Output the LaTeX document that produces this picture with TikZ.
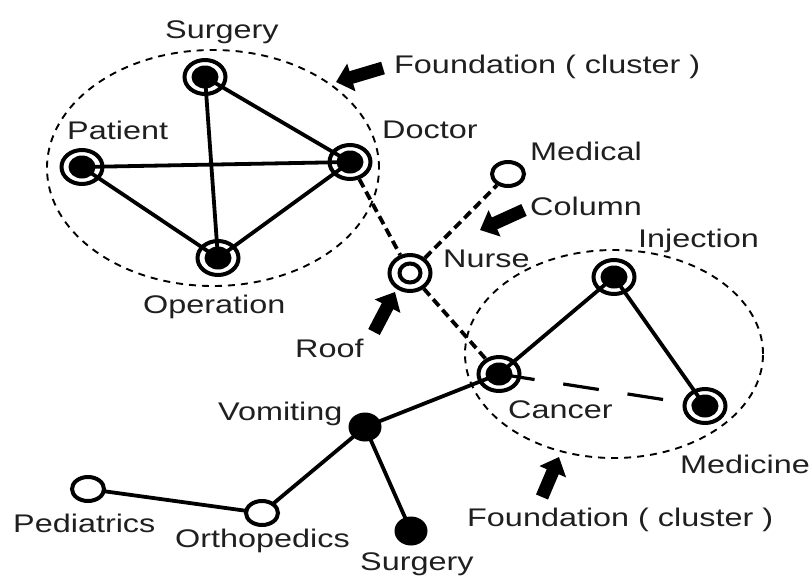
\documentclass[tikz,border=0pt]{standalone}
\usepackage{fontspec}
\setmainfont{Liberation Sans}[FakeStretch=1.27]
\usetikzlibrary{shapes.geometric,arrows.meta,backgrounds}
\begin{document}
\begin{tikzpicture}[x=1pt,y=-1pt,
  lbl/.style={font=\fontsize{25.5pt}{30pt}\selectfont, inner sep=0pt, anchor=base west, text=black!88},
  ring/.style={ellipse, draw, line width=4pt, minimum width=41pt, minimum height=34pt, inner sep=0pt},
  nursering/.style={ellipse, draw, fill=white, line width=4pt, minimum width=41pt, minimum height=36pt, inner sep=0pt},
  opennode/.style={ellipse, draw, fill=white, line width=4pt, minimum width=32pt, minimum height=24pt, inner sep=0pt},
  solidnode/.style={ellipse, fill=black, minimum width=33pt, minimum height=29pt, inner sep=0pt},
  edge/.style={line width=3.8pt},
  dedge/.style={line width=3.8pt, dash pattern=on 9pt off 5pt},
  longdash/.style={line width=3.2pt, dash pattern=on 36pt off 29pt},
  cluster/.style={ellipse, draw, line width=1.9pt, dash pattern=on 7pt off 6pt, inner sep=0pt},
  fat/.style={line width=13pt, -{Triangle[length=16pt,width=28pt]}},
]
\path[use as bounding box] (0,0) rectangle (811,576);

% clusters
\node[cluster, minimum width=332pt, minimum height=236pt] (clusterA) at (213,168) {};
\node[cluster, minimum width=298pt, minimum height=208pt] (clusterB) at (614,354) {};

% nodes
\node[ring] (surgA) at (205,77) {};
\node[ring] (patient) at (82,167) {};
\node[ring] (doctor) at (350,162) {};
\node[ring] (operation) at (218,258) {};
\node[ring] (injection) at (614,277) {};
\node[ring] (cancer) at (499,374) {};
\node[ring] (medicine) at (705,406) {};
\node[nursering] (nurse) at (410,273) {};
\draw[line width=4pt] (nurse.center) ellipse [x radius=10.5pt, y radius=9.5pt];
\node[opennode] (medical) at (508,174) {};
\node[opennode] (pediatrics) at (88,489) {};
\node[opennode] (orthopedics) at (262,513) {};
\node[solidnode] (vomiting) at (365,427) {};
\node[solidnode] (surgB) at (411,531) {};
\foreach \n in {surgA,patient,doctor,operation,injection,cancer,medicine}
  \fill (\n.center) ellipse [x radius=13.5pt, y radius=11.5pt];

% solid edges
\begin{scope}[on background layer]
\draw[edge] (surgA.center) -- (doctor.center);
\draw[edge] (surgA.center) -- (operation.center);
\draw[edge] (patient.center) -- (doctor.center);
\draw[edge] (patient.center) -- (operation.center);
\draw[edge] (doctor.center) -- (operation.center);
\draw[edge] (cancer.center) -- (injection.center);
\draw[edge] (injection.center) -- (medicine.center);
\draw[edge] (cancer.center) -- (vomiting.center);
\draw[edge] (vomiting.center) -- (orthopedics.center);
\draw[edge] (vomiting.center) -- (surgB.center);
\draw[edge] (orthopedics.center) -- (pediatrics.center);
\draw[longdash] (cancer.center) -- (medicine.center);
\end{scope}

% dashed edges
\draw[dedge] (doctor) -- (nurse);
\draw[dedge] (nurse) -- (medical);
\draw[dedge] (nurse) -- (cancer);

% block arrows
\coordinate (a1t) at (383,68);  \coordinate (a1h) at (336,82);
\coordinate (a2t) at (524,210); \coordinate (a2h) at (480,230);
\coordinate (a3t) at (374,332); \coordinate (a3h) at (395,292);
\coordinate (a4t) at (542,497); \coordinate (a4h) at (559,457);
\draw[fat] (a1t) -- (a1h);
\draw[fat] (a2t) -- (a2h);
\draw[fat] (a3t) -- (a3h);
\draw[fat] (a4t) -- (a4h);

% labels
\node[lbl] (lSurgA) at (165,38) {Surgery};
\node[lbl] (lPatient) at (67,139) {Patient};
\node[lbl] (lDoctor) at (382,138) {Doctor};
\node[lbl] (lFoundA) at (394,73) {Foundation ( cluster )};
\node[lbl] (lMedical) at (530,160) {Medical};
\node[lbl] (lColumn) at (530,215) {Column};
\node[lbl] (lNurse) at (443,267) {Nurse};
\node[lbl] (lInjection) at (638,247) {Injection};
\node[lbl] (lOperation) at (143,313) {Operation};
\node[lbl] (lRoof) at (295,357) {Roof};
\node[lbl] (lVomiting) at (218,420) {Vomiting};
\node[lbl] (lCancer) at (508,418) {Cancer};
\node[lbl] (lMedicine) at (680,473) {Medicine};
\node[lbl] (lFoundB) at (467,526) {Foundation ( cluster )};
\node[lbl] (lPediatrics) at (13,532) {Pediatrics};
\node[lbl] (lOrthopedics) at (175,547) {Orthopedics};
\node[lbl] (lSurgB) at (360,570) {Surgery};
\end{tikzpicture}
\end{document}
